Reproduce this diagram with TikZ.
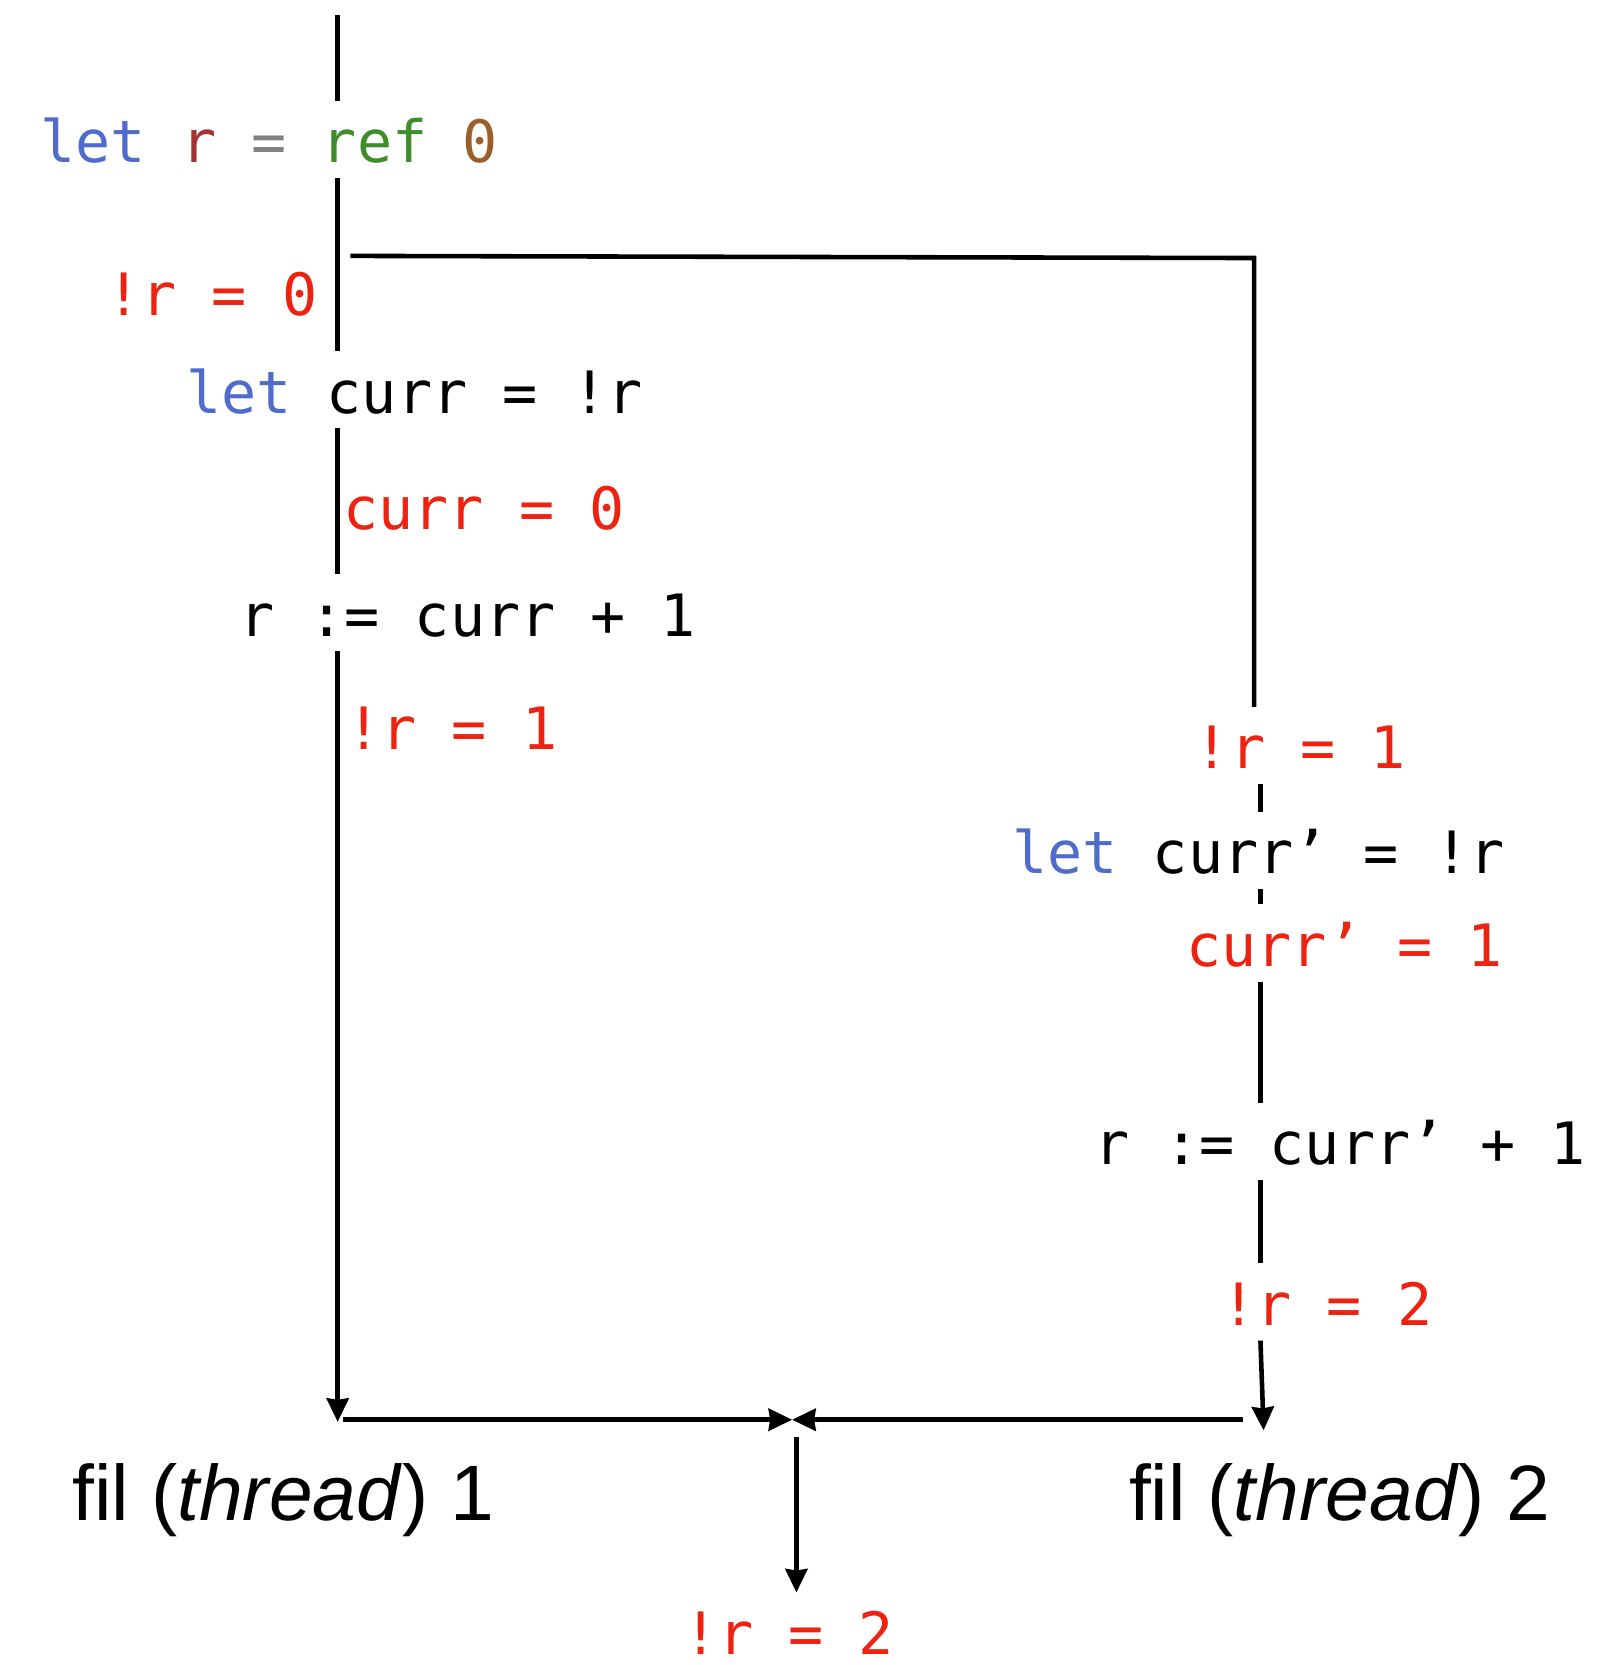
\documentclass[tikz,border=0pt]{standalone}
\usepackage{fontspec}
\setmainfont{Liberation Sans}
\newfontfamily\codefont{DejaVu Sans Mono}
\usepackage{xcolor}
\usepackage{tikz}
\usetikzlibrary{arrows.meta, positioning}
\definecolor{kwblue}{RGB}{79,107,204}
\definecolor{varred}{RGB}{163,50,50}
\definecolor{opgray}{RGB}{128,128,128}
\definecolor{fungreen}{RGB}{63,140,42}
\definecolor{numbrown}{RGB}{156,94,42}
\definecolor{valred}{RGB}{238,34,17}

\begin{document}
\begin{tikzpicture}[
        x=0.02123cm, y=-0.02123cm,
        codenode/.style={anchor=base west, inner xsep=0pt, inner ysep=0.3cm, text height=0.93cm, text depth=0pt, font=\codefont\fontsize{33.2}{40}\selectfont\frenchspacing},
        valnode/.style={codenode, text=valred},
        threadnode/.style={anchor=base west, inner sep=0pt, font=\fontsize{44.7}{54}\selectfont},
        flow/.style={line width=2.6pt, color=black},
        arrowstyle/.style={flow, -{Stealth[length=0.47cm, width=0.44cm, inset=0.03cm]}}
    ]
        \useasboundingbox (0,0) rectangle (1525,1568);

        % Thread 1
        \node[codenode] (letr) at (38,153) {\textcolor{kwblue}{let} \textcolor{varred}{r} \textcolor{opgray}{=} \textcolor{fungreen}{ref} \textcolor{numbrown}{0}};
        \node[valnode] (r0) at (100,297) {!r = 0};
        \node[codenode] (lc1) at (175,389) {\textcolor{kwblue}{let} curr = !r};
        \node[valnode] (c0) at (323,499) {curr = 0};
        \node[codenode] (asg1) at (225,599) {r := curr + 1};
        \node[valnode] (r1a) at (326,706) {!r = 1};

        % Thread 2
        \node[valnode] (r1b) at (1125,724) {!r = 1};
        \node[codenode] (lc2) at (953,823) {\textcolor{kwblue}{let} curr’ = !r};
        \node[valnode] (c1) at (1117,910) {curr’ = 1};
        \node[codenode] (asg2) at (1030,1097) {r := curr’ + 1};
        \node[valnode] (r2b) at (1150,1248) {!r = 2};

        % Join
        \node[threadnode] (fil1) at (68,1432) {fil (\textit{thread}) 1};
        \node[threadnode] (fil2) at (1063,1432) {fil (\textit{thread}) 2};
        \node[valnode] (r2) at (643,1558) {!r = 2};

        \coordinate (top) at (318,14);
        \coordinate (fork) at (330,241);
        \coordinate (corner) at (1181,243);
        \coordinate (rline) at (1187,0);
        \coordinate (end1) at (318,1339);
        \coordinate (end2) at (1190,1347);
        \coordinate (h1) at (323,1337);
        \coordinate (h2) at (1171,1337);
        \coordinate (join) at (746,1337);
        \coordinate (drop) at (750,1353);

        % Thread 1 flow
        \draw[flow] (top) -- (top |- letr.north);
        \draw[flow] (top |- letr.south) -- (top |- lc1.north);
        \draw[flow] (top |- lc1.south) -- (top |- asg1.north);
        \draw[arrowstyle] (top |- asg1.south) -- (end1);

        % Thread 2 flow
        \draw[flow] (fork) -- (corner) -- (corner |- r1b.north);
        \draw[flow] (rline |- r1b.south) -- (rline |- lc2.north);
        \draw[flow] (rline |- lc2.south) -- (rline |- c1.north);
        \draw[flow] (rline |- c1.south) -- (rline |- asg2.north);
        \draw[flow] (rline |- asg2.south) -- (rline |- r2b.north);
        \draw[arrowstyle] (rline |- r2b.south) -- (end2);

        % Join flow
        \draw[arrowstyle] (h1) -- (join);
        \draw[arrowstyle] (h2) -- (join);
        \draw[arrowstyle] (drop) -- (drop |- r2.north);
    \end{tikzpicture}
\end{document}
